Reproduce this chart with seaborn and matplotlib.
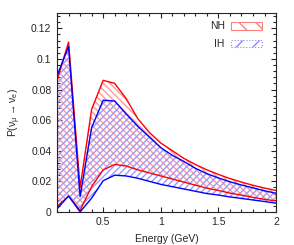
import numpy as np
import pandas as pd
import matplotlib
matplotlib.use("Agg")
import matplotlib.pyplot as plt
import seaborn as sns
from matplotlib.patches import Patch
from matplotlib.ticker import MultipleLocator

# --- dados ---
energy = [0.1, 0.2, 0.3, 0.4, 0.5, 0.6, 0.7, 0.8, 0.9, 1.0,
          1.1, 1.2, 1.3, 1.4, 1.5, 1.6, 1.7, 1.8, 1.9, 2.0]
nh_max = [0.086, 0.111, 0.016, 0.067, 0.086, 0.084, 0.074, 0.061, 0.052, 0.045,
          0.040, 0.035, 0.031, 0.0275, 0.0245, 0.0218, 0.0195, 0.0174, 0.0156, 0.014]
nh_min = [0.0035, 0.0104, 0.001, 0.0165, 0.0274, 0.031, 0.030, 0.0275, 0.0255, 0.0235,
          0.0215, 0.0195, 0.0175, 0.0155, 0.014, 0.0123, 0.011, 0.0095, 0.0082, 0.0072]
ih_max = [0.089, 0.108, 0.010, 0.055, 0.073, 0.0725, 0.064, 0.056, 0.049, 0.042,
          0.037, 0.033, 0.0285, 0.025, 0.0222, 0.0197, 0.0176, 0.0157, 0.0138, 0.0122]
ih_min = [0.002, 0.0104, 0.0, 0.009, 0.0204, 0.024, 0.0235, 0.022, 0.020, 0.018,
          0.0165, 0.015, 0.0135, 0.012, 0.011, 0.0098, 0.0088, 0.0078, 0.0068, 0.0057]

sns.set_style("ticks")
plt.rcParams['font.family'] = ['Liberation Sans', 'DejaVu Sans']
plt.rcParams['mathtext.default'] = 'regular'
plt.rcParams['font.size'] = 7.5
plt.rcParams['hatch.linewidth'] = 1.0
plt.rcParams['xtick.direction'] = 'in'
plt.rcParams['ytick.direction'] = 'in'

fig = plt.figure(figsize=(2.94, 2.45), dpi=100)
ax = fig.add_axes([0.194, 0.135, 0.745, 0.812])

# bandas hachuradas
ax.fill_between(energy, nh_min, nh_max, facecolor='none', edgecolor='#ff9a9a',
                hatch='\\\\\\\\\\', linewidth=0)
ax.fill_between(energy, ih_min, ih_max, facecolor='none', edgecolor='#9a9aff',
                hatch='/////', linewidth=0)

# curvas de borda
df = pd.DataFrame({
    'energy': energy * 4,
    'p': nh_max + nh_min + ih_max + ih_min,
    'curve': ['nh_max'] * 20 + ['nh_min'] * 20 + ['ih_max'] * 20 + ['ih_min'] * 20,
})
sns.lineplot(data=df, x='energy', y='p', hue='curve', units='curve', estimator=None,
             palette={'nh_max': 'red', 'nh_min': 'red', 'ih_max': 'blue', 'ih_min': 'blue'},
             linewidth=1.0, legend=False, ax=ax)

ax.set_xlim(0.1, 2)
ax.set_ylim(0, 0.13)
ax.xaxis.set_major_locator(MultipleLocator(0.5))
ax.xaxis.set_minor_locator(MultipleLocator(0.1))
ax.yaxis.set_major_locator(MultipleLocator(0.02))
ax.yaxis.set_minor_locator(MultipleLocator(0.004))
ax.xaxis.set_major_formatter(plt.FuncFormatter(lambda v, p: f"{v:g}"))
ax.yaxis.set_major_formatter(plt.FuncFormatter(lambda v, p: f"{v:g}"))
ax.tick_params(which='both', top=True, right=True, width=0.8, labelsize=7.5, pad=4)
ax.tick_params(which='major', length=3.5)
ax.tick_params(which='minor', length=2)
for s in ax.spines.values():
    s.set_linewidth(0.8)

ax.set_xlabel('Energy (GeV)', fontsize=7.5, labelpad=5)
ax.set_ylabel(r'P($\nu_\mu \rightarrow \nu_e$)', fontsize=7.5, labelpad=6)

handles = [
    Patch(facecolor='white', edgecolor='#ff8080', hatch='\\\\', linewidth=0.8, label='NH'),
    Patch(facecolor='white', edgecolor='#8888ff', hatch='//', linewidth=0.8,
          linestyle=':', label='IH'),
]
ax.legend(handles=handles, loc='upper right', bbox_to_anchor=(0.975, 1.0),
          frameon=False, markerfirst=False,
          handlelength=3.0, handleheight=0.75, labelspacing=0.75, fontsize=7.5,
          borderaxespad=0.3, borderpad=0.5, handletextpad=0.6)

fig.savefig('out.png', dpi=100)
